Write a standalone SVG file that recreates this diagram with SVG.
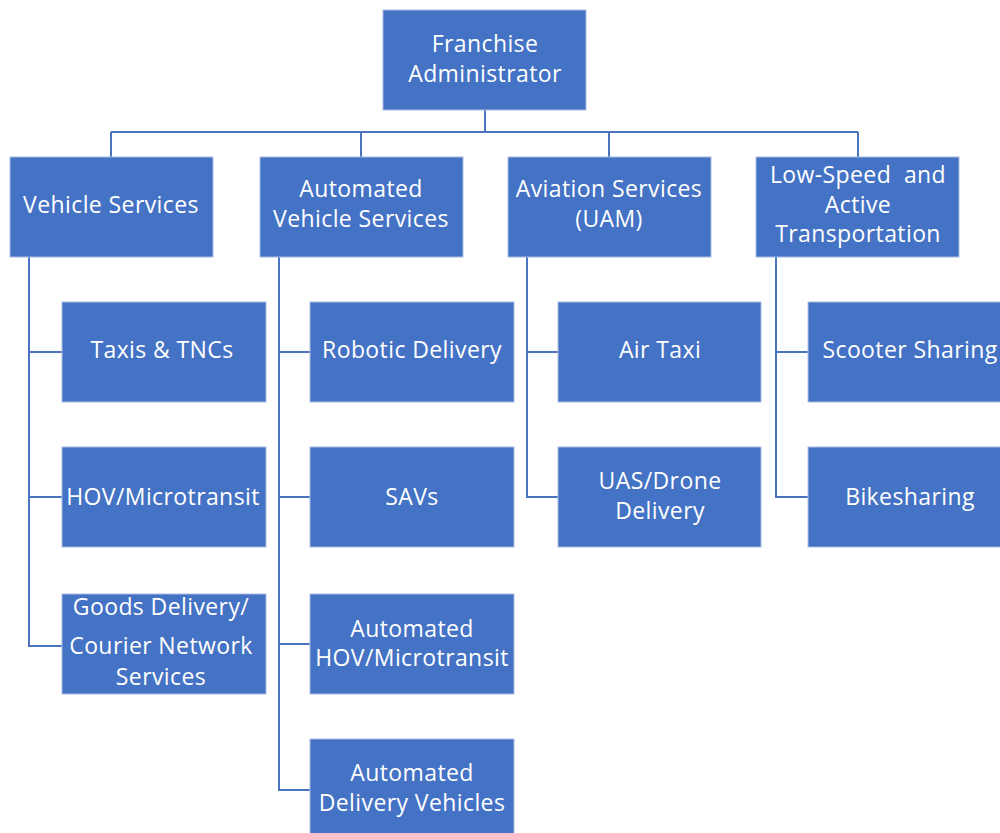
<svg xmlns="http://www.w3.org/2000/svg" width="1000" height="833" viewBox="0 0 1000 833">
<style>
.box{fill:#4472C4;stroke:#A9BCE3;stroke-width:1}
.t{font-family:"Open Sans","Noto Sans",sans-serif;font-size:23px;letter-spacing:0.4px;fill:#FFFFFF;text-anchor:middle}
.c{fill:none;stroke:#4A74C0;stroke-width:2}
</style>
<rect width="1000" height="833" fill="#FFFFFF"/>
<g id="connectors">
<path class="c" d="M485,110V132M111,132H858M111,132V157M361,132V157M609,132V157M858,132V157"/>
<path class="c" d="M29,257V646H62M29,352H62M29,497H62"/>
<path class="c" d="M279,257V790H310M279,352H310M279,497H310M279,644H310"/>
<path class="c" d="M527,257V497H558M527,352H558"/>
<path class="c" d="M776,257V497H808M776,352H808"/>
</g>
<g id="n-franchise"><rect class="box" x="383" y="10" width="203" height="100"/><text class="t" x="485" y="52">Franchise</text><text class="t" x="485" y="82">Administrator</text></g>
<g id="n-vehicle"><rect class="box" x="10" y="157" width="203" height="100"/><text class="t" x="111" y="213">Vehicle Services</text></g>
<g id="n-automated"><rect class="box" x="260" y="157" width="203" height="100"/><text class="t" x="361" y="197">Automated</text><text class="t" x="361" y="227">Vehicle Services</text></g>
<g id="n-aviation"><rect class="box" x="508" y="157" width="203" height="100"/><text class="t" x="609" y="197">Aviation Services</text><text class="t" x="609" y="227">(UAM)</text></g>
<g id="n-lowspeed"><rect class="box" x="756" y="157" width="203" height="100"/><text class="t" x="858" y="183">Low-Speed&#160; and</text><text class="t" x="858" y="213">Active</text><text class="t" x="858" y="242">Transportation</text></g>
<g id="n-taxis"><rect class="box" x="62" y="302" width="204" height="100"/><text class="t" x="162" y="358">Taxis &amp; TNCs</text></g>
<g id="n-hov"><rect class="box" x="62" y="447" width="204" height="100"/><text class="t" x="163" y="505">HOV/Microtransit</text></g>
<g id="n-goods"><rect class="box" x="62" y="594" width="204" height="100"/><text class="t" x="161" y="615">Goods Delivery/</text><text class="t" x="161" y="654">Courier Network</text><text class="t" x="161" y="685">Services</text></g>
<g id="n-robotic"><rect class="box" x="310" y="302" width="204" height="100"/><text class="t" x="412" y="358">Robotic Delivery</text></g>
<g id="n-savs"><rect class="box" x="310" y="447" width="204" height="100"/><text class="t" x="412" y="505">SAVs</text></g>
<g id="n-autohov"><rect class="box" x="310" y="594" width="204" height="100"/><text class="t" x="412" y="637">Automated</text><text class="t" x="412" y="666">HOV/Microtransit</text></g>
<g id="n-autodelivery"><rect class="box" x="310" y="739" width="204" height="100"/><text class="t" x="412" y="781">Automated</text><text class="t" x="412" y="811">Delivery Vehicles</text></g>
<g id="n-airtaxi"><rect class="box" x="558" y="302" width="203" height="100"/><text class="t" x="660" y="358">Air Taxi</text></g>
<g id="n-uas"><rect class="box" x="558" y="447" width="203" height="100"/><text class="t" x="660" y="489">UAS/Drone</text><text class="t" x="660" y="519">Delivery</text></g>
<g id="n-scooter"><rect class="box" x="808" y="302" width="203" height="100"/><text class="t" x="910" y="358">Scooter Sharing</text></g>
<g id="n-bike"><rect class="box" x="808" y="447" width="203" height="100"/><text class="t" x="910" y="505">Bikesharing</text></g>
</svg>
